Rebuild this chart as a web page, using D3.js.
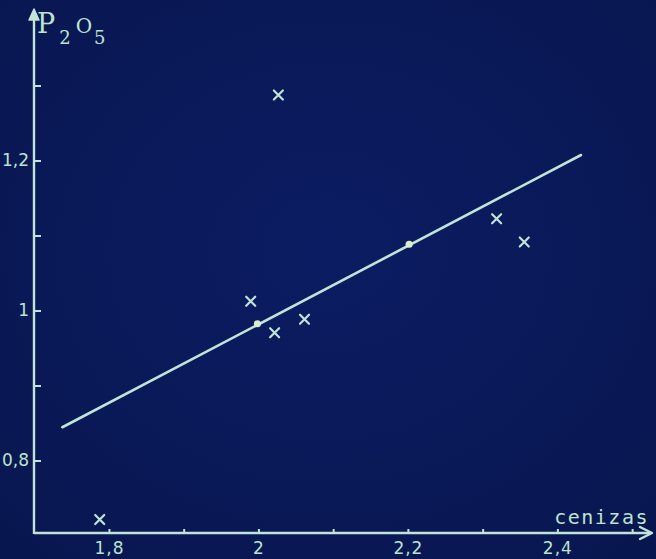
<!DOCTYPE html>
<html>
<head>
<meta charset="utf-8">
<script src="https://cdn.jsdelivr.net/npm/d3@7"></script>
<style>
  html, body { margin: 0; padding: 0; background: #0a1a5a; }
  svg { display: block; }
</style>
</head>
<body>
<div id="chart"></div>
<script>
// data
const cenizas = [1.787, 2.026, 1.989, 2.021, 2.061, 2.318, 2.355];
const p2o5    = [0.722, 1.288, 1.013, 0.971, 0.989, 1.123, 1.092];

// regression line ends and the two marked points on it
const lineX = [1.737, 2.431];
const lineY = [0.845, 1.208];
const markX = [1.998, 2.201];
const markY = [0.983, 1.089];

const xTicks = [1.8, 1.9, 2.0, 2.1, 2.2, 2.3, 2.4, 2.5];
const xLabels = { 1.8: "1,8", 2.0: "2", 2.2: "2,2", 2.4: "2,4" };
const yTicks = [0.8, 0.9, 1.0, 1.1, 1.2, 1.3];
const yLabels = { 0.8: "0,8", 1.0: "1", 1.2: "1,2" };

const width = 656, height = 559;
const ink = "#c2e4d8";
const textInk = "#bde3cf";

const svg = d3.select("#chart")
    .append("svg")
    .attr("width", width)
    .attr("height", height);

// dark blueprint background with a slight vignette
const defs = svg.append("defs");
const grad = defs.append("radialGradient").attr("id", "bg")
    .attr("cx", "50%").attr("cy", "45%").attr("r", "75%");
grad.append("stop").attr("offset", "0%").attr("stop-color", "#0c1c62");
grad.append("stop").attr("offset", "100%").attr("stop-color", "#08164f");
svg.append("rect").attr("width", width).attr("height", height).attr("fill", "url(#bg)");

// scales: 0.1 on either axis is about 75 px
const x = d3.scaleLinear().domain([1.7, 2.55]).range([34.7, 670]);
const y = d3.scaleLinear().domain([0.7, 1.4]).range([536, 11]);

const x0 = 34, y0 = 533;

// axes
svg.append("line")
    .attr("x1", x0).attr("y1", y0).attr("x2", 650).attr("y2", y0)
    .attr("stroke", ink).attr("stroke-width", 2.6);
svg.append("line")
    .attr("x1", x0).attr("y1", y0 + 1).attr("x2", x0).attr("y2", 12)
    .attr("stroke", ink).attr("stroke-width", 2.4);

// arrow heads
svg.append("path")
    .attr("d", `M640,${y0 - 6} L652,${y0} L640,${y0 + 6}`)
    .attr("fill", "none").attr("stroke", ink).attr("stroke-width", 2.4)
    .attr("stroke-linejoin", "round").attr("stroke-linecap", "round");
svg.append("path")
    .attr("d", `M${x0 - 5},20 L${x0},9 L${x0 + 5},20 Z`)
    .attr("fill", ink).attr("stroke", ink).attr("stroke-width", 1.5)
    .attr("stroke-linejoin", "round");

// x ticks and labels
svg.selectAll(".xtick")
    .data(xTicks)
    .enter()
    .append("line")
    .attr("x1", d => x(d)).attr("x2", d => x(d))
    .attr("y1", y0 - 4).attr("y2", y0 + 1)
    .attr("stroke", ink).attr("stroke-width", 2);

svg.selectAll(".xlab")
    .data(xTicks.filter(d => xLabels[d]))
    .enter()
    .append("text")
    .attr("x", d => x(d))
    .attr("y", 554)
    .attr("text-anchor", "middle")
    .attr("font-family", "DejaVu Sans, sans-serif")
    .attr("font-size", 17)
    .attr("fill", textInk)
    .attr("letter-spacing", 1)
    .text(d => xLabels[d]);

// y ticks and labels
svg.selectAll(".ytick")
    .data(yTicks)
    .enter()
    .append("line")
    .attr("x1", x0).attr("x2", x0 + 7)
    .attr("y1", d => y(d)).attr("y2", d => y(d))
    .attr("stroke", ink).attr("stroke-width", 2);

svg.selectAll(".ylab")
    .data(yTicks.filter(d => yLabels[d]))
    .enter()
    .append("text")
    .attr("x", 29)
    .attr("y", d => y(d) + 5)
    .attr("text-anchor", "end")
    .attr("font-family", "DejaVu Sans, sans-serif")
    .attr("font-size", 17)
    .attr("fill", textInk)
    .text(d => yLabels[d]);

// axis titles
const title = svg.append("text")
    .attr("x", 37).attr("y", 33)
    .attr("font-family", "DejaVu Serif, serif")
    .attr("font-size", 27)
    .attr("fill", textInk);
title.append("tspan").text("P");
title.append("tspan").attr("dy", 11).attr("dx", 4).attr("font-size", 18).text("2");
title.append("tspan").attr("dy", -11).attr("dx", 5).attr("font-size", 20).text("O");
title.append("tspan").attr("dy", 11).attr("dx", 2).attr("font-size", 18).text("5");

svg.append("text")
    .attr("x", 649).attr("y", 524)
    .attr("text-anchor", "end")
    .attr("font-family", "DejaVu Sans Mono, monospace")
    .attr("font-size", 20)
    .attr("letter-spacing", 1.5)
    .attr("fill", textInk)
    .text("cenizas");

// regression line
svg.append("line")
    .attr("x1", x(lineX[0])).attr("y1", y(lineY[0]))
    .attr("x2", x(lineX[1])).attr("y2", y(lineY[1]))
    .attr("stroke", ink).attr("stroke-width", 2.6)
    .attr("stroke-linecap", "round");

svg.selectAll(".mark")
    .data(markX)
    .enter()
    .append("circle")
    .attr("cx", d => x(d))
    .attr("cy", (d, i) => y(markY[i]))
    .attr("r", 3.6)
    .attr("fill", "#d8f0c8");

// data points as crosses
const s = 4.5;
svg.selectAll(".pt")
    .data(cenizas)
    .enter()
    .append("path")
    .attr("d", (d, i) => {
        const cx = x(d), cy = y(p2o5[i]);
        return `M${cx - s},${cy - s}L${cx + s},${cy + s}M${cx + s},${cy - s}L${cx - s},${cy + s}`;
    })
    .attr("stroke", ink).attr("stroke-width", 2.2)
    .attr("stroke-linecap", "round");
</script>
</body>
</html>
